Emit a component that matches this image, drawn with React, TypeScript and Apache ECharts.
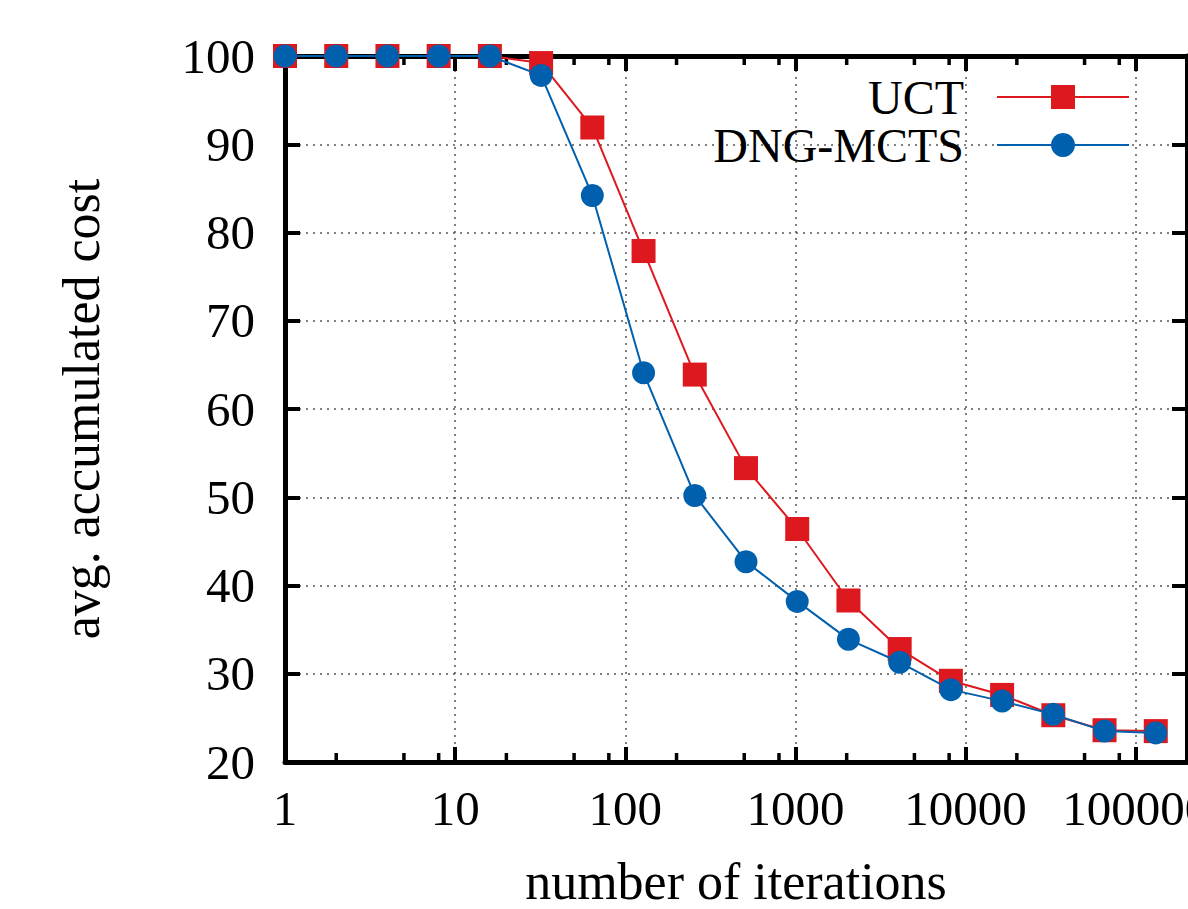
import React, { useEffect, useRef } from "react";
import * as echarts from "echarts";

const iterations = [1, 2, 4, 8, 16, 32, 64, 128, 256, 512, 1024, 2048, 4096, 8192, 16384, 32768, 65536, 131072];
const uct = [100, 100, 100, 100, 100, 99.2, 91.9, 77.9, 63.9, 53.3, 46.4, 38.3, 32.8, 29.2, 27.6, 25.3, 23.6, 23.5];
const dng = [100, 100, 100, 100, 100, 97.8, 84.2, 64.1, 50.2, 42.7, 38.2, 33.9, 31.3, 28.2, 26.9, 25.4, 23.5, 23.3];
const xTickLabels = ["1", "10", "100", "1000", "10000", "100000"];
const minorTicks = [2, 5, 8, 20, 50, 80, 200, 500, 800, 2000, 5000, 8000, 20000, 50000, 80000];
const xMin = 1;
const xMax = 200000;
const yMin = 20;
const yMax = 100;
const yStep = 10;

const FONT = "Liberation Serif";
const RED = "#dd181f";
const BLUE = "#0060ad";

function xLabel(v: number): string {
  const l = Math.log10(v);
  const r = Math.round(l);
  if (Math.abs(l - r) < 1e-6 && r >= 0 && r < xTickLabels.length) return xTickLabels[r];
  return "";
}

export default function App() {
  const ref = useRef<HTMLDivElement>(null);
  useEffect(() => {
    if (!ref.current) return;
    const chart = echarts.init(ref.current, null, { renderer: "svg" });
    const axisLine = { show: true, lineStyle: { color: "#000", width: 5 } };
    const tick = { show: true, inside: true, length: 15, lineStyle: { color: "#000", width: 4 } };
    const split = { show: true, lineStyle: { color: "#555", width: 1.5, type: [2, 5] as any } };
    const option: any = {
      animation: false,
      backgroundColor: "#fff",
      textStyle: { fontFamily: FONT },
      grid: { left: 285, top: 56, width: 902, height: 706, containLabel: false, outerBoundsMode: "none" },
      legend: {
        data: ["UCT", "DNG-MCTS"],
        orient: "vertical",
        align: "right",
        right: 53,
        top: 68,
        itemWidth: 132,
        itemHeight: 30,
        itemGap: 0,
        selectedMode: false,
        textStyle: { fontFamily: FONT, fontSize: 48, color: "#000", lineHeight: 46, padding: [0, 28, 0, 0] },
      },
      xAxis: [
        {
          type: "log",
          logBase: 10,
          min: xMin,
          max: xMax,
          position: "bottom",
          axisLine,
          axisTick: tick,
          splitLine: split,
          axisLabel: { fontFamily: FONT, fontSize: 49, color: "#000", margin: 22, formatter: xLabel },
          name: "number of iterations",
          nameLocation: "middle",
          nameGap: 93,
          nameTextStyle: { fontFamily: FONT, fontSize: 52, color: "#000" },
        },
        {
          type: "log",
          logBase: 10,
          min: xMin,
          max: xMax,
          position: "top",
          axisLine,
          axisTick: tick,
          splitLine: { show: false },
          axisLabel: { show: false },
        },
      ],
      yAxis: [
        {
          type: "value",
          min: yMin,
          max: yMax,
          interval: yStep,
          position: "left",
          axisLine,
          axisTick: tick,
          splitLine: split,
          axisLabel: { fontFamily: FONT, fontSize: 49, color: "#000", margin: 30 },
          name: "avg. accumulated cost",
          nameLocation: "middle",
          nameRotate: 90,
          nameGap: 178,
          nameTextStyle: { fontFamily: FONT, fontSize: 52, color: "#000" },
        },
        {
          type: "value",
          min: yMin,
          max: yMax,
          interval: yStep,
          position: "right",
          axisLine,
          axisTick: tick,
          splitLine: { show: false },
          axisLabel: { show: false },
        },
      ],
      series: [
        {
          type: "custom",
          name: "minor",
          xAxisIndex: 0,
          yAxisIndex: 0,
          silent: true,
          clip: false,
          data: minorTicks.map((v) => [v, yMin]),
          renderItem: (params: any, api: any) => {
            const v = api.value(0);
            const b = api.coord([v, yMin]);
            const t = api.coord([v, yMax]);
            return {
              type: "group",
              children: [
                { type: "line", shape: { x1: b[0], y1: b[1], x2: b[0], y2: b[1] - 9 }, style: { stroke: "#000", lineWidth: 3.5 } },
                { type: "line", shape: { x1: t[0], y1: t[1], x2: t[0], y2: t[1] + 9 }, style: { stroke: "#000", lineWidth: 3.5 } },
              ],
            };
          },
        },
        {
          type: "line",
          name: "UCT",
          xAxisIndex: 0,
          yAxisIndex: 0,
          clip: false,
          data: iterations.map((x, i) => [x, uct[i]]),
          symbol: "rect",
          symbolSize: 24,
          lineStyle: { color: RED, width: 2 },
          itemStyle: { color: RED },
          z: 3,
        },
        {
          type: "line",
          name: "DNG-MCTS",
          xAxisIndex: 0,
          yAxisIndex: 0,
          clip: false,
          data: iterations.map((x, i) => [x, dng[i]]),
          symbol: "circle",
          symbolSize: 23,
          lineStyle: { color: BLUE, width: 2 },
          itemStyle: { color: BLUE },
          z: 4,
        },
      ],
    };
    chart.setOption(option);
    return () => chart.dispose();
  }, []);
  return <div ref={ref} style={{ position: "absolute", left: 0, top: 0, width: 1188, height: 909 }} />;
}
